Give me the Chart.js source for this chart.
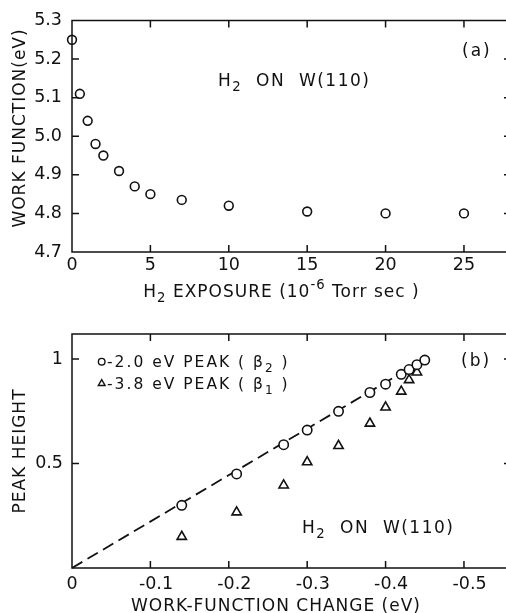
<!DOCTYPE html>
<html>
<head>
<meta charset="utf-8">
<script src="https://cdn.jsdelivr.net/npm/chart.js@4/dist/chart.umd.min.js"></script>
<style>
html,body{margin:0;padding:0;background:#fff;overflow:hidden}
#wrap{position:relative;width:506px;height:613px;overflow:hidden;background:#fff}
canvas{position:absolute;left:0}
#chartA{top:0}
#chartB{top:305px}
</style>
</head>
<body>
<div id="wrap">
  <canvas id="chartA" width="520" height="305"></canvas>
  <canvas id="chartB" width="520" height="308"></canvas>
</div>
<script>
// panel (a): work function vs H2 exposure
const exposure = [0, 0.5, 1, 1.5, 2, 3, 4, 5, 7, 10, 15, 20, 25];
const workFunction = [5.25, 5.11, 5.04, 4.98, 4.95, 4.91, 4.87, 4.85, 4.835, 4.82, 4.805, 4.80, 4.80];

// panel (b): peak height vs work-function change
const deltaPhi = [-0.14, -0.21, -0.27, -0.30, -0.34, -0.38, -0.40, -0.42, -0.43, -0.44, -0.45];
const peakBeta2 = [0.30, 0.45, 0.59, 0.66, 0.75, 0.84, 0.88, 0.927, 0.95, 0.973, 0.995];
const peakBeta1 = [0.15, 0.267, 0.396, 0.507, 0.585, 0.692, 0.769, 0.845, 0.90, 0.937];
const fitX = [0, -0.45];
const fitY = [0, 1.0];

const xTicksA = [5, 10, 15, 20, 25];
const yTicksA = [4.8, 4.9, 5.0, 5.1, 5.2];
const xTicksB = [-0.1, -0.2, -0.3, -0.4, -0.5];
const yTicksB = [0.5, 1];

const INK = '#111';
const FAMILY = "'DejaVu Sans', sans-serif";
Chart.defaults.font.family = FAMILY;
Chart.defaults.color = INK;

const pts = (xs, ys) => ys.map((v, i) => ({x: xs[i], y: v}));

// box + inward ticks on all four sides
const frameTicks = {
  id: 'frameTicks',
  afterDraw(chart, args, opts){
    const {ctx, chartArea: a} = chart;
    const x = chart.scales.x, y = chart.scales.y;
    const len = 7;
    ctx.save();
    ctx.strokeStyle = INK;
    ctx.lineWidth = 1.5;
    ctx.beginPath();
    ctx.rect(a.left, a.top, a.right - a.left, a.bottom - a.top);
    (opts.xTicks || []).forEach(v => {
      const px = x.getPixelForValue(v);
      ctx.moveTo(px, a.bottom); ctx.lineTo(px, a.bottom - len);
      ctx.moveTo(px, a.top); ctx.lineTo(px, a.top + len);
    });
    (opts.yTicks || []).forEach(v => {
      const py = y.getPixelForValue(v);
      ctx.moveTo(a.left, py); ctx.lineTo(a.left + len, py);
      ctx.moveTo(a.right, py); ctx.lineTo(a.right - len, py);
    });
    ctx.stroke();
    ctx.restore();
  }
};

// text with sub/superscripts, plus legend symbols
function drawRich(ctx, item){
  const size = item.size;
  ctx.save();
  ctx.fillStyle = INK;
  ctx.letterSpacing = (item.spacing || 0) + 'px';
  ctx.textBaseline = 'alphabetic';
  ctx.textAlign = 'left';
  const runs = item.parts.map(([t, m]) => {
    const s = m ? size * 0.78 : size;
    ctx.font = `${s}px ${FAMILY}`;
    return {t, s, dy: m === 'sub' ? size * 0.32 : m === 'sup' ? -size * 0.45 : 0, w: ctx.measureText(t).width};
  });
  const total = runs.reduce((acc, r) => acc + r.w, 0);
  ctx.translate(item.x, item.y);
  if(item.rotate) ctx.rotate(item.rotate);
  let cx = item.align === 'center' ? -total / 2 : 0;
  runs.forEach(r => { ctx.font = `${r.s}px ${FAMILY}`; ctx.fillText(r.t, cx, r.dy); cx += r.w; });
  ctx.restore();
}

const notes = {
  id: 'notes',
  afterDraw(chart, args, opts){
    const ctx = chart.ctx;
    (opts.items || []).forEach(it => {
      if(it.marker){
        ctx.save();
        ctx.strokeStyle = INK; ctx.fillStyle = '#fff'; ctx.lineWidth = 1.4;
        Chart.helpers.drawPoint(ctx, {pointStyle: it.marker, radius: it.r, borderWidth: 1.4, rotation: 0}, it.x, it.y);
        ctx.restore();
      } else drawRich(ctx, it);
    });
  }
};

const tickFont = {size: 17.5};
const noGrid = {display: false, drawTicks: false};

new Chart(document.getElementById('chartA'), {
  type: 'scatter',
  data: {
    datasets: [{
      data: pts(exposure, workFunction),
      pointStyle: 'circle', pointRadius: 4.4, pointBorderWidth: 1.6,
      borderColor: INK, backgroundColor: '#fff', clip: false
    }]
  },
  options: {
    responsive: false, animation: false,
    layout: {padding: {top: 18, right: 9, left: 0, bottom: 0}},
    plugins: {
      legend: {display: false}, tooltip: {enabled: false},
      frameTicks: {xTicks: xTicksA, yTicks: yTicksA},
      notes: {items: [
        {x: 25, y: 128, rotate: -Math.PI / 2, align: 'center', size: 17, spacing: 1, parts: [['WORK FUNCTION(eV)']]},
        {x: 281.5, y: 297, align: 'center', size: 17, spacing: 1, parts: [['H'], ['2', 'sub'], [' EXPOSURE (10'], ['-6', 'sup'], [' Torr sec )']]},
        {x: 218, y: 86, size: 17, spacing: 1.5, parts: [['H'], ['2', 'sub'], ['  ON  W(110)']]},
        {x: 462, y: 56, size: 17, spacing: 2, parts: [['(a)']]}
      ]}
    },
    scales: {
      x: {
        type: 'linear', min: 0, max: 28,
        grid: noGrid, border: {display: false},
        ticks: {stepSize: 5, includeBounds: false, padding: 3, font: tickFont, maxRotation: 0},
        afterFit: s => { s.height = 53; }
      },
      y: {
        type: 'linear', min: 4.7, max: 5.3,
        grid: noGrid, border: {display: false},
        ticks: {stepSize: 0.1, includeBounds: false, padding: 10, font: tickFont, callback: v => v.toFixed(1)},
        afterFit: s => { s.width = 72; }
      }
    }
  },
  plugins: [frameTicks, notes]
});

new Chart(document.getElementById('chartB'), {
  type: 'scatter',
  data: {
    datasets: [{
      label: '-2.0 eV PEAK',
      data: pts(deltaPhi, peakBeta2), order: 0,
      pointStyle: 'circle', pointRadius: 4.7, pointBorderWidth: 1.6,
      borderColor: INK, backgroundColor: '#fff', clip: false
    }, {
      label: '-3.8 eV PEAK',
      data: pts(deltaPhi, peakBeta1), order: 1,
      pointStyle: 'triangle', pointRadius: 5.4, pointBorderWidth: 1.6,
      borderColor: INK, backgroundColor: '#fff', clip: false
    }, {
      label: 'fit',
      data: pts(fitX, fitY), order: 2,
      showLine: true, pointRadius: 0, borderColor: INK, borderWidth: 1.8,
      borderDash: [12, 6], clip: false
    }]
  },
  options: {
    responsive: false, animation: false,
    layout: {padding: {top: 29, right: 9, left: 0, bottom: 0}},
    plugins: {
      legend: {display: false}, tooltip: {enabled: false},
      frameTicks: {xTicks: xTicksB, yTicks: yTicksB},
      notes: {items: [
        {x: 25, y: 146, rotate: -Math.PI / 2, align: 'center', size: 17, spacing: 1, parts: [['PEAK HEIGHT']]},
        {x: 276, y: 306, align: 'center', size: 17, spacing: 1, parts: [['WORK-FUNCTION CHANGE (eV)']]},
        {x: 302, y: 228, size: 17, spacing: 1.5, parts: [['H'], ['2', 'sub'], ['  ON  W(110)']]},
        {x: 461, y: 61, size: 17, spacing: 2, parts: [['(b)']]},
        {marker: 'circle', r: 3.3, x: 101.7, y: 56.7},
        {x: 107, y: 62, size: 15.5, spacing: 2, parts: [['-2.0 eV PEAK ( β'], ['2', 'sub'], [' )']]},
        {marker: 'triangle', r: 3.9, x: 101.7, y: 78.5},
        {x: 107, y: 84, size: 15.5, spacing: 2, parts: [['-3.8 eV PEAK ( β'], ['1', 'sub'], [' )']]}
      ]}
    },
    scales: {
      x: {
        type: 'linear', min: -0.56, max: 0, reverse: true,
        grid: noGrid, border: {display: false},
        ticks: {stepSize: 0.1, includeBounds: false, padding: 5.5, font: tickFont, maxRotation: 0,
          callback: v => v === 0 ? '0' : '  ' + v.toFixed(1)},
        afterFit: s => { s.height = 45; }
      },
      y: {
        type: 'linear', min: 0, max: 1.12,
        grid: noGrid, border: {display: false},
        ticks: {stepSize: 0.5, includeBounds: false, padding: 9, font: tickFont, callback: v => v === 0 ? '' : String(v)},
        afterFit: s => { s.width = 72; }
      }
    }
  },
  plugins: [frameTicks, notes]
});
</script>
</body>
</html>
